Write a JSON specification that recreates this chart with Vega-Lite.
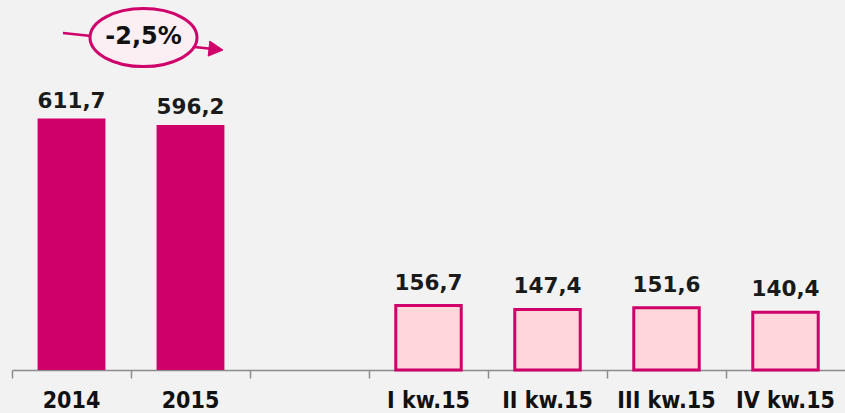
{
  "$schema": "https://vega.github.io/schema/vega-lite/v6.json",
  "width": 833,
  "height": 370,
  "autosize": {"type": "none"},
  "padding": {"left": 12, "top": 0, "right": 0, "bottom": 43},
  "background": "#f2f2f2",
  "config": {"view": {"stroke": null}},
  "datasets": {
    "bars": [
      {"cat": "2014", "value": 611.7, "label": "611,7", "group": "year"},
      {"cat": "2015", "value": 596.2, "label": "596,2", "group": "year"},
      {"cat": "I kw.15", "value": 156.7, "label": "156,7", "group": "quarter"},
      {"cat": "II kw.15", "value": 147.4, "label": "147,4", "group": "quarter"},
      {"cat": "III kw.15", "value": 151.6, "label": "151,6", "group": "quarter"},
      {"cat": "IV kw.15", "value": 140.4, "label": "140,4", "group": "quarter"}
    ],
    "note": [
      {"cat": "2015", "value": 800, "label": "-2,5%"}
    ]
  },
  "encoding": {
    "x": {
      "field": "cat",
      "type": "nominal",
      "sort": null,
      "scale": {
        "domain": ["2014", "2015", "gap", "I kw.15", "II kw.15", "III kw.15", "IV kw.15"],
        "paddingInner": 0,
        "paddingOuter": 0
      },
      "axis": {
        "title": null,
        "bandPosition": 0,
        "labelAngle": 0,
        "labelExpr": "datum.value == 'gap' ? '' : datum.value",
        "labelFont": "DejaVu Sans Condensed",
        "labelFontWeight": "bold",
        "labelFontSize": 23,
        "labelColor": "#111111",
        "labelPadding": 11,
        "labelOverlap": false,
        "domainColor": "#8c8c8c",
        "domainWidth": 1.5,
        "tickColor": "#8c8c8c",
        "tickWidth": 1.5,
        "tickSize": 8,
        "grid": false
      }
    },
    "y": {
      "field": "value",
      "type": "quantitative",
      "scale": {"domain": [0, 900], "nice": false, "zero": true},
      "axis": null
    }
  },
  "layer": [
    {
      "data": {"name": "bars"},
      "transform": [{"filter": "datum.group == 'year'"}],
      "mark": {"type": "bar", "width": {"band": 0.57}, "color": "#cf006a", "cornerRadius": 0}
    },
    {
      "data": {"name": "bars"},
      "transform": [{"filter": "datum.group == 'quarter'"}],
      "mark": {"type": "bar", "width": {"band": 0.55}, "fill": "#ffd6da", "stroke": "#cf006a", "strokeWidth": 3}
    },
    {
      "data": {"name": "bars"},
      "transform": [{"filter": "datum.group == 'year'"}],
      "mark": {"type": "text", "baseline": "alphabetic", "dy": -11, "font": "DejaVu Sans", "fontWeight": "bold", "fontSize": 21.5, "color": "#1a1a1a"},
      "encoding": {"text": {"field": "label"}}
    },
    {
      "data": {"name": "bars"},
      "transform": [{"filter": "datum.group == 'quarter'"}],
      "mark": {"type": "text", "baseline": "alphabetic", "dy": -16, "font": "DejaVu Sans", "fontWeight": "bold", "fontSize": 21.5, "color": "#1a1a1a"},
      "encoding": {"text": {"field": "label"}}
    },
    {
      "data": {"name": "note"},
      "mark": {"type": "point", "shape": "M -1.275 -0.081 L 0.25 0.081", "size": 40000, "filled": false, "stroke": "#cf006a", "strokeWidth": 2.5, "opacity": 1}
    },
    {
      "data": {"name": "note"},
      "mark": {"type": "point", "shape": "M -1.005 -0.035 A 0.535 0.29 0 1 0 0.065 -0.035 A 0.535 0.29 0 1 0 -1.005 -0.035 Z", "size": 40000, "filled": true, "fill": "#fbeff4", "stroke": "#cf006a", "strokeWidth": 3, "opacity": 1}
    },
    {
      "data": {"name": "note"},
      "mark": {"type": "point", "shape": "M 0.325 0.089 L 0.193 0.0 L 0.177 0.15 Z", "size": 40000, "filled": true, "fill": "#cf006a", "stroke": "#cf006a", "strokeWidth": 1, "opacity": 1}
    },
    {
      "data": {"name": "note"},
      "mark": {"type": "text", "baseline": "middle", "align": "center", "dx": -47, "dy": -4, "font": "DejaVu Sans", "fontWeight": "bold", "fontSize": 24, "color": "#111111"},
      "encoding": {"text": {"field": "label"}}
    }
  ]
}
